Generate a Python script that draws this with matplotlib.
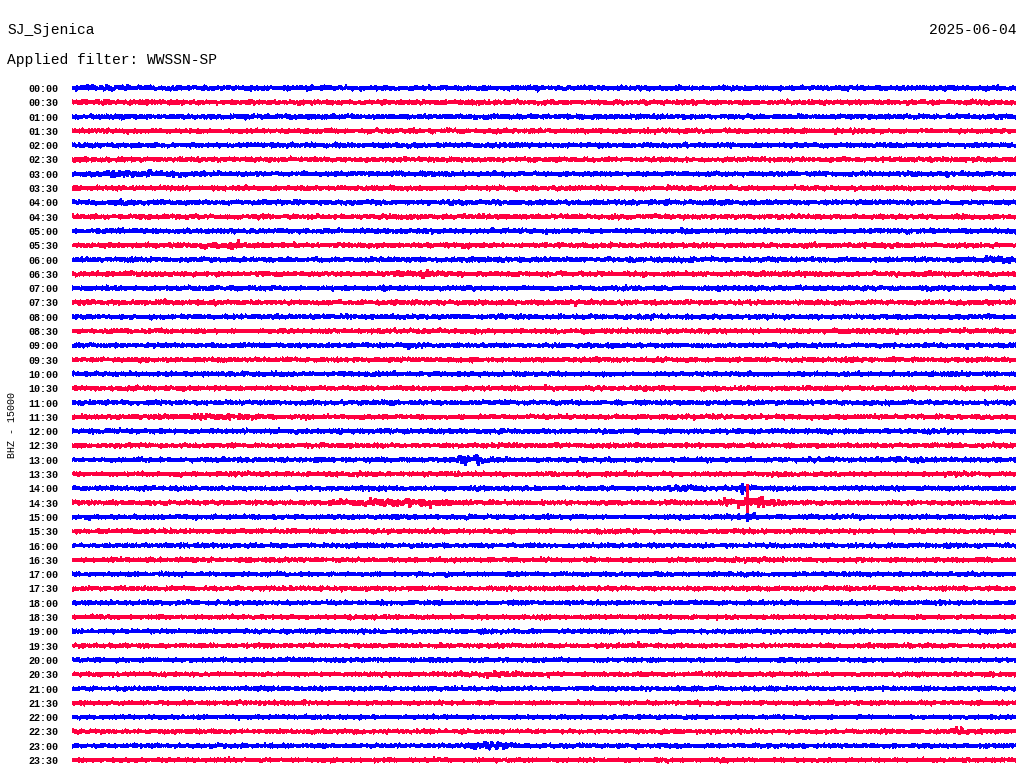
import numpy as np
import matplotlib
matplotlib.use("Agg")
import matplotlib.pyplot as plt

# ---------------- data ----------------
station = "SJ_Sjenica"
date_label = "2025-06-04"
filter_label = "Applied filter: WWSSN-SP"
channel_label = "BHZ - 15000"

row_labels = [f"{h:02d}:{m:02d}" for h in range(24) for m in (0, 30)]
row_colors = ["#0000ff" if i % 2 == 0 else "#ff0040" for i in range(48)]

# background noise level per row (std in row units)
noise_level = [
    0.044, 0.042, 0.040, 0.038, 0.040, 0.038, 0.040, 0.038,
    0.042, 0.038, 0.040, 0.038, 0.042, 0.046, 0.040, 0.042,
    0.038, 0.036, 0.038, 0.036, 0.038, 0.036, 0.036, 0.038,
    0.038, 0.034, 0.036, 0.036, 0.034, 0.034, 0.034, 0.034,
    0.032, 0.031, 0.031, 0.029, 0.029, 0.029, 0.029, 0.029,
    0.029, 0.029, 0.029, 0.029, 0.027, 0.029, 0.029, 0.027,
]

# events: (row index, centre minute, half-duration minute, extra std)
event_row = [0, 6, 8, 11, 13, 23, 26, 26, 27, 28, 28, 28, 29, 29, 30, 41, 45, 46, 17, 12, 33]
event_mid = [1.1, 2.1, 1.6, 4.8, 11.0, 4.7, 12.6, 26.3, 5.3, 16.7, 19.6, 21.3, 10.3, 21.8, 21.5, 13.5, 28.2, 13.3, 25.8, 29.5, 21.3]
event_half = [0.5, 1.0, 0.4, 0.7, 0.8, 0.7, 0.5, 0.5, 0.3, 0.3, 0.4, 0.3, 1.4, 0.5, 0.3, 0.8, 0.4, 0.4, 0.4, 0.4, 0.3]
event_amp = [0.04, 0.06, 0.03, 0.05, 0.04, 0.06, 0.13, 0.08, 0.04, 0.06, 0.06, 0.08, 0.09, 0.14, 0.04, 0.035, 0.06, 0.12, 0.04, 0.05, 0.03]

# single sharp spikes: (row, minute, amplitude in row units)
spike_row = [28, 29, 30]
spike_min = [21.3, 21.45, 21.45]
spike_amp = [0.32, 1.2, 0.22]

minutes_per_row = 30.0
n_samples = 1800

# ---------------- figure ----------------
W, H = 1024, 780
fig = plt.figure(figsize=(W / 100, H / 100), dpi=100)
fig.patch.set_facecolor("white")

sp = 14.3  # px between rows
top = 88 - sp / 2
bot = 760 + sp / 2
ax = fig.add_axes([72 / W, 1 - bot / H, (1016 - 72) / W, (bot - top) / H])

rng = np.random.default_rng(11)
t = np.linspace(0, minutes_per_row, n_samples)

for i in range(48):
    env = np.full(n_samples, noise_level[i])
    for r, m, h, a in zip(event_row, event_mid, event_half, event_amp):
        if r == i:
            env = env + a * np.exp(-0.5 * ((t - m) / h) ** 2)
    sig = rng.standard_t(9, n_samples) * env
    ax.plot(t, -i + sig, color=row_colors[i], lw=1.5, antialiased=False,
            solid_joinstyle="miter")
    for r, m, a in zip(spike_row, spike_min, spike_amp):
        if r == i:
            ax.plot([m, m], [-i - a, -i + a], color=row_colors[i], lw=0.9,
                    antialiased=False)

ax.set_xlim(0, minutes_per_row)
ax.set_ylim(-47.5, 0.5)
ax.set_yticks([-i for i in range(48)])
ax.set_yticklabels(row_labels, fontfamily="Liberation Mono", fontsize=7.2,
                   fontweight="bold")
ax.tick_params(axis="y", length=0, pad=10)
ax.set_xticks([])
for s in ax.spines.values():
    s.set_visible(False)

fig.text(12 / W, 1 - 425 / H, channel_label, rotation=90, ha="center",
         va="center", fontfamily="Liberation Mono", fontsize=7.2)

fig.text(7 / W, 1 - 30 / H, station, ha="left", va="center",
         fontfamily="Liberation Mono", fontsize=10.5)
fig.text(1016 / W, 1 - 30 / H, date_label, ha="right", va="center",
         fontfamily="Liberation Mono", fontsize=10.5)
fig.text(7 / W, 1 - 60 / H, filter_label, ha="left", va="center",
         fontfamily="Liberation Mono", fontsize=10.5)

fig.savefig("out.png", dpi=100, facecolor="white")
